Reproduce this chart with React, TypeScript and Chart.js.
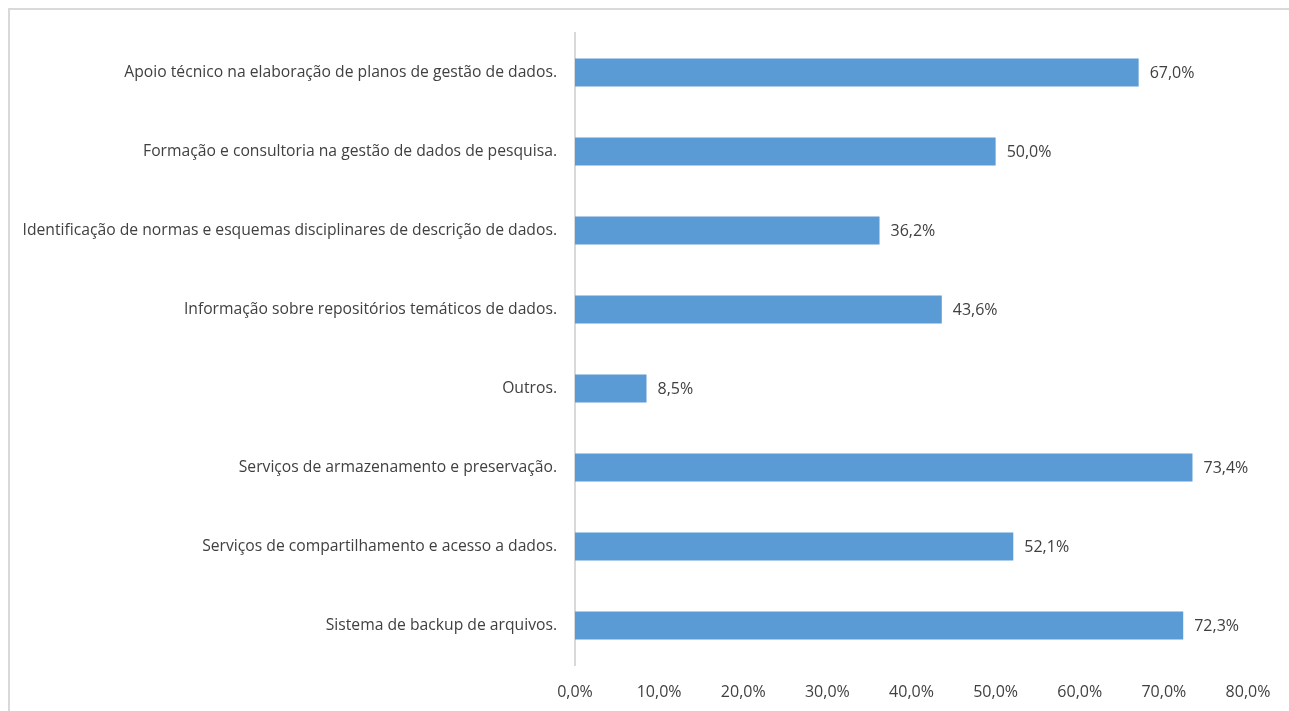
import React, { useEffect, useRef } from "react";
import { Chart, registerables } from "chart.js";

Chart.register(...registerables);

const categories = [
  "Apoio técnico na elaboração de planos de gestão de dados.",
  "Formação e consultoria na gestão de dados de pesquisa.",
  "Identificação de normas e esquemas disciplinares de descrição de dados.",
  "Informação sobre repositórios temáticos de dados.",
  "Outros.",
  "Serviços de armazenamento e preservação.",
  "Serviços de compartilhamento e acesso a dados.",
  "Sistema de backup de arquivos.",
];
const values = [67.0, 50.0, 36.2, 43.6, 8.5, 73.4, 52.1, 72.3];
const xTicks = [0, 10, 20, 30, 40, 50, 60, 70, 80];
const xTickLabels = ["0,0%", "10,0%", "20,0%", "30,0%", "40,0%", "50,0%", "60,0%", "70,0%", "80,0%"];

const FONT = "'Open Sans', sans-serif";
const TEXT = "#404040";

const fmt = (v: number) => v.toFixed(1).replace(".", ",") + "%";

export default function App() {
  const ref = useRef<HTMLCanvasElement>(null);
  useEffect(() => {
    const labelPlugin = {
      id: "valueLabels",
      afterDatasetsDraw(chart: any) {
        const ctx = chart.ctx;
        const meta = chart.getDatasetMeta(0);
        ctx.save();
        ctx.font = `16px ${FONT}`;
        ctx.fillStyle = TEXT;
        ctx.textAlign = "left";
        ctx.textBaseline = "middle";
        meta.data.forEach((bar: any, i: number) => {
          ctx.fillText(fmt(values[i]), bar.x + 11, bar.y + 1);
        });
        ctx.restore();
      },
    };
    const chart = new Chart(ref.current!, {
      type: "bar",
      data: {
        labels: categories,
        datasets: [
          {
            data: values,
            backgroundColor: "#5B9BD5",
            borderWidth: 0,
            categoryPercentage: 1,
            barPercentage: 0.355,
          },
        ],
      },
      options: {
        indexAxis: "y",
        animation: false,
        responsive: false,
        layout: { padding: { top: 23, right: 41, left: 0, bottom: 0 } },
        plugins: { legend: { display: false }, tooltip: { enabled: false } },
        scales: {
          x: {
            min: 0,
            max: 80,
            afterBuildTicks: (scale: any) => {
              scale.ticks = xTicks.map((v) => ({ value: v }));
            },
            afterFit: (scale: any) => {
              scale.height = 46;
            },
            grid: { display: false },
            border: { display: false },
            ticks: {
              padding: 10,
              color: TEXT,
              font: { size: 16, family: FONT },
              callback: (_v: any, i: number) => xTickLabels[i],
            },
          },
          y: {
            afterFit: (scale: any) => {
              scale.width = 565;
            },
            grid: { display: false },
            border: { display: true, color: "#D9D9D9", width: 2 },
            ticks: {
              padding: 10,
              color: TEXT,
              font: { size: 15.7, family: FONT },
            },
          },
        },
      },
      plugins: [labelPlugin],
    });
    return () => chart.destroy();
  }, []);
  return (
    <div
      style={{
        position: "fixed",
        left: 8,
        top: 8,
        borderTop: "2px solid #D9D9D9",
        borderLeft: "2px solid #D9D9D9",
        width: 1281,
        height: 703,
        boxSizing: "border-box",
        overflow: "hidden",
      }}
    >
      <canvas ref={ref} width={1279} height={701} style={{ display: "block" }} />
    </div>
  );
}
